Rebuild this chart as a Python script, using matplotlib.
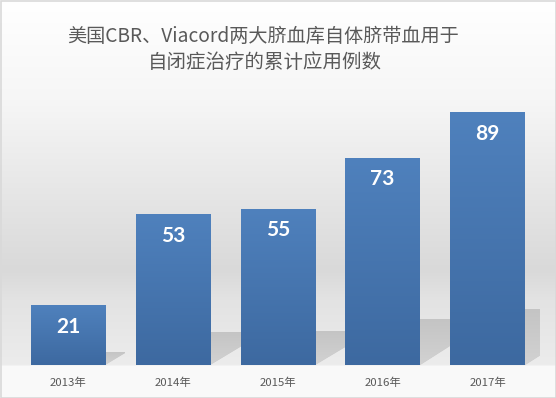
import numpy as np
import matplotlib
matplotlib.use("Agg")
import matplotlib.pyplot as plt
from matplotlib.colors import LinearSegmentedColormap
from matplotlib.patches import Polygon, Rectangle

plt.rcParams['font.family'] = ['Noto Sans CJK SC', 'DejaVu Sans']

categories = ["2013年", "2014年", "2015年", "2016年", "2017年"]
values = [21, 53, 55, 73, 89]
title_lines = ["美国CBR、Viacord两大脐血库自体脐带血用于", "自闭症治疗的累计应用例数"]

W, H = 556, 398
fig = plt.figure(figsize=(W / 100, H / 100), dpi=100)

# background gradient
bg = fig.add_axes([0, 0, 1, 1], zorder=-5)
stops_y = [0, 100, 270, 300, 364, 366, 398]
stops_c = [255, 246, 217, 227, 236, 249, 250]
ys = np.arange(H)
col = np.interp(ys, stops_y, stops_c) / 255.0
img = np.repeat(col[:, None], 2, axis=1)
img = np.stack([img, img, img], axis=-1)
bg.imshow(img, extent=[0, W, H, 0], aspect='auto', interpolation='bilinear')
bg.set_xlim(0, W)
bg.set_ylim(H, 0)
bg.axis('off')
bg.add_patch(Rectangle((0.5, 0.5), W - 1, H - 1, fill=False, edgecolor='#d9d9d9', lw=1.2))

# main axes
left, right, base, top = 15.5, 540, 365, 81
ax = fig.add_axes([left / W, (H - base) / H, (right - left) / W, (base - top) / H])
ax.patch.set_alpha(0)
x = np.arange(len(categories))
bw = 0.71
bars = ax.bar(x, values, width=bw, color='#4677b0', zorder=3)
ax.set_xlim(-0.5, len(categories) - 0.5)
ax.set_ylim(0, 100)

bar_cmap = LinearSegmentedColormap.from_list('b', ['#3d69a0', '#4f81bd'])
grad = np.linspace(0, 1, 256)[:, None]
for b in bars:
    bx, by = b.get_x(), b.get_height()
    im = ax.imshow(grad, cmap=bar_cmap, origin='lower', aspect='auto',
                   extent=[bx, bx + b.get_width(), 0, by], zorder=3.5)
    im.set_clip_path(b)

# shadows
k = 0.22
slope = 26.0
sh_cmap = LinearSegmentedColormap.from_list('s', ['#d2d2d2', '#c4c4c4'])
for i, b in enumerate(bars):
    xr = b.get_x() + b.get_width()
    h = b.get_height()
    L = min(0.009 * h, 0.6)
    poly = Polygon([(xr, 0), (xr, k * h), (xr + L, k * h), (xr + L, min(slope * L, k * h) * 0.9)],
                   closed=True, facecolor='#c8c8c8', edgecolor='none', zorder=2)
    ax.add_patch(poly)
    sim = ax.imshow(grad, cmap=sh_cmap, origin='lower', aspect='auto',
                    extent=[xr, xr + L, 0, k * h], zorder=2.1)
    sim.set_clip_path(poly)

ax.set_xlim(-0.5, len(categories) - 0.5)
ax.set_ylim(0, 100)

for xi, v in zip(x, values):
    ax.text(xi, v - 7.6, str(v), ha='center', va='center', color='white',
            fontsize=15, fontweight='bold', family=['Lato', 'DejaVu Sans'], zorder=5)

for s in ax.spines.values():
    s.set_visible(False)
ax.set_yticks([])
ax.set_xticks(x)
ax.set_xticklabels(categories, fontsize=8.2, color='#595959')
ax.tick_params(axis='x', length=0, pad=9)

fig.text(263 / W, 1 - 36 / H, title_lines[0], ha='center', va='center', fontsize=13.8, color='#595959')
fig.text(265 / W, 1 - 62 / H, title_lines[1], ha='center', va='center', fontsize=14.0, color='#595959')

fig.savefig('out.png', dpi=100)
